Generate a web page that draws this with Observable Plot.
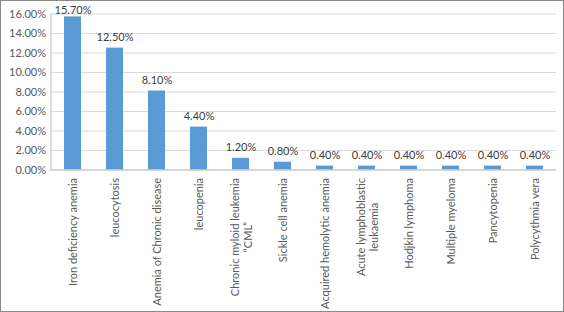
<!DOCTYPE html>
<html><head><meta charset="utf-8">
<script src="https://cdn.jsdelivr.net/npm/d3@7"></script>
<script src="https://cdn.jsdelivr.net/npm/@observablehq/plot@0.6"></script>
<style>
body{margin:0;background:#fff;}
#chart{width:564px;height:312px;box-sizing:border-box;border:1px solid #8a8a8a;overflow:hidden;background:#fff;}
#chart svg{display:block;}
</style></head><body><div id="chart"></div>
<script>
const categories = [
  "Iron deficiency anemia",
  "leucocytosis",
  "Anemia of Chronic disease",
  "leucopenia",
  "Chronic myloid leukemia\n\u201cCML\u201d",
  "Sickle cell anemia",
  "Acquired hemolytic anemia",
  "Acute lymphoblastic\nleukaemia",
  "Hodjkin lymphoma",
  "Multiple myeloma",
  "Pancytopenia",
  "Polycythmia vera"
];
const values = [15.7, 12.5, 8.1, 4.4, 1.2, 0.8, 0.4, 0.4, 0.4, 0.4, 0.4, 0.4];
const yTicks = [0, 2, 4, 6, 8, 10, 12, 14, 16];
const yMax = 16;

const data = categories.map((c, i) => ({category: c, value: values[i]}));
const FONT = "Lato";
const FS = 11;
const ctx = document.createElement("canvas").getContext("2d");
ctx.font = `${FS}px ${FONT}`;
const labelWidth = s => Math.max(...s.split("\n").map(l => ctx.measureText(l).width));
const multi = categories.filter(c => c.includes("\n"));
const pct = v => v.toFixed(2) + "%";
const fits = d => d.value + 0.8 <= yMax;

const plot = Plot.plot({
  width: 562,
  height: 310,
  marginLeft: 49.5,
  marginRight: 7,
  marginTop: 12.5,
  marginBottom: 141.5,
  style: {fontFamily: FONT, fontSize: FS + "px", color: "#595959", background: "#fff"},
  x: {domain: categories, paddingInner: 0.6, paddingOuter: 0.3, label: null},
  y: {domain: [0, yMax], label: null},
  marks: [
    Plot.gridY(yTicks, {stroke: "#d9d9d9", strokeOpacity: 1}),
    Plot.frame({anchor: "left", stroke: "#bfbfbf"}),
    Plot.barY(data, {x: "category", y: "value", fill: "#5B9BD5"}),
    Plot.ruleY([0], {stroke: "#bfbfbf"}),
    Plot.axisY(yTicks, {tickSize: 0, tickPadding: 5, tickFormat: pct, fill: "#595959", fontSize: FS}),
    Plot.axisX({tickSize: 0, tickRotate: -90, tickPadding: 8, fill: "#595959", fontSize: FS,
      tickFormat: c => c.includes("\n") ? "" : c}),
    ...multi.map(c => Plot.text([c], {
      x: d => d, text: d => d, frameAnchor: "bottom", rotate: -90,
      textAnchor: "middle", lineAnchor: "middle", lineHeight: 1.2,
      dy: 8 + labelWidth(c) / 2, fill: "#595959", fontSize: FS
    })),
    Plot.text(data.filter(fits), {x: "category", y: "value", text: d => pct(d.value),
      dy: -7, lineAnchor: "bottom", fill: "#404040", fontSize: FS}),
    Plot.text(data.filter(d => !fits(d)), {x: "category", text: d => pct(d.value),
      frameAnchor: "top", lineAnchor: "bottom", fill: "#404040", fontSize: FS})
  ]
});
document.getElementById("chart").appendChild(plot);
</script>
</body></html>
